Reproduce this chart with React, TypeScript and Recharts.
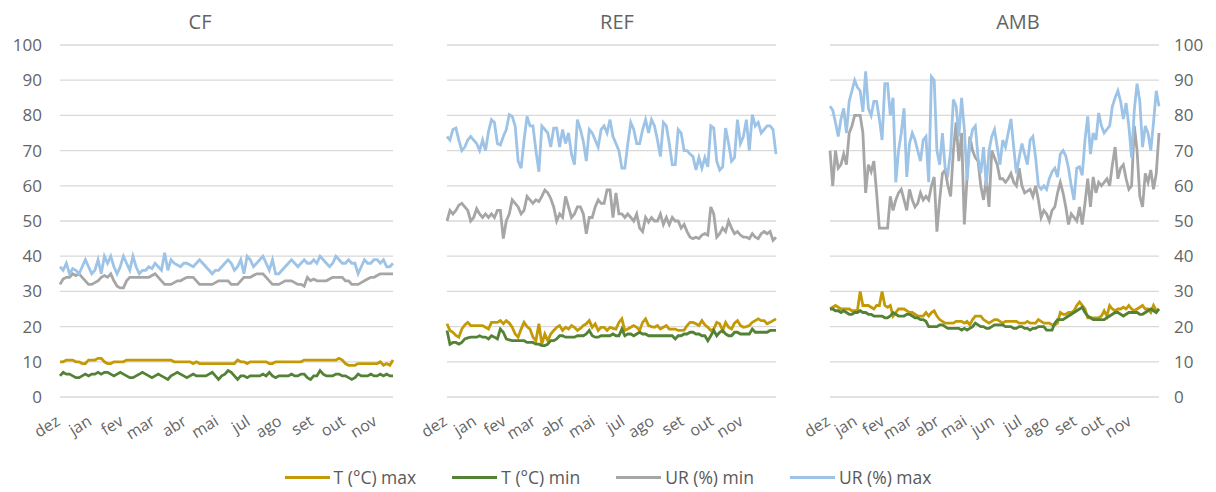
import React from "react";
import { LineChart, Line, XAxis, YAxis, CartesianGrid } from "recharts";

// ---------- labels ----------
const monthsCF = ["dez", "jan", "fev", "mar", "abr", "mai", "jul", "ago", "set", "out", "nov"];
const monthsREF = ["dez", "jan", "fev", "mar", "abr", "mai", "jul", "ago", "set", "out", "nov"];
const monthsAMB = ["dez", "jan", "fev", "mar", "abr", "mai", "jun", "jul", "ago", "set", "out", "nov"];
const tickCF = [0, 10, 20, 30, 40, 50, 60, 70, 80, 90, 100];
const tickREF = [0, 10, 20, 30, 40, 50, 60, 70, 80, 90, 100];
const tickAMB = [0, 10, 20, 30, 40, 50, 60, 70, 80, 90, 100, 110];
const yTicks = [0, 10, 20, 30, 40, 50, 60, 70, 80, 90, 100];
const titles = ["CF", "REF", "AMB"];

// ---------- CF ----------
const cfTmax = [10, 10, 10.5, 10.5, 10.5, 10, 10, 9.5, 9.5, 10.5, 10.5, 10.5, 11, 11, 10, 9.5, 9.5, 10, 10, 10, 10, 10.5, 10.5, 10.5, 10.5, 10.5, 10.5, 10.5, 10.5, 10.5, 10.5, 10.5, 10.5, 10.5, 10.5, 10.5, 10, 10, 10, 10, 10, 10, 9.5, 10, 9.5, 9.5, 9.5, 9.5, 9.5, 9.5, 9.5, 9.5, 9.5, 9.5, 9.5, 9.5, 10.5, 10, 10, 9.5, 10, 10, 10, 10, 10, 10, 9.5, 9.5, 10, 10, 10, 10, 10, 10, 10, 10, 10, 10.5, 10.5, 10.5, 10.5, 10.5, 10.5, 10.5, 10.5, 10.5, 10.5, 10.5, 11, 10.5, 9.5, 9, 9, 9, 9.5, 9.5, 9.5, 9.5, 9.5, 9.5, 9.5, 10, 9, 9.5, 9, 10.5];
const cfTmin = [6, 7, 6.5, 6.5, 6, 5.5, 5.5, 6, 6.5, 6, 6.5, 6.5, 7, 6.5, 7, 7, 6.5, 6, 6.5, 7, 6.5, 6, 5.5, 5.5, 6, 6.5, 7, 6.5, 6, 5.5, 6, 6.5, 6, 5.5, 5, 6, 6.5, 7, 6.5, 6, 5.5, 6, 6.5, 6, 6, 6, 6, 6.5, 7, 6, 5, 6, 6.5, 7.5, 7, 6, 5, 6, 6, 5.5, 6, 6, 6, 6, 6.5, 6, 7, 6, 5.5, 6, 6, 6, 6, 6.5, 6, 6, 6.5, 6.5, 5.5, 5, 6, 6, 7.5, 6.5, 6, 6, 6, 6.5, 6.5, 6, 6, 5.5, 5, 5.5, 6.5, 6, 6, 6, 6.5, 6, 6, 6.5, 6, 6.5, 6, 6];
const cfURmin = [32, 33.5, 34, 34, 35, 34.5, 35, 34, 33, 32, 32, 32.5, 33, 34, 34.5, 34, 35, 33, 31.5, 31, 31, 33, 34, 34, 34, 34, 34, 34, 34, 34.5, 35, 34, 33, 32, 32, 32, 32.5, 33, 33, 33.5, 34, 34, 34, 33, 32, 32, 32, 32, 32, 32.5, 33, 33, 33, 33, 32, 32, 32, 33, 34, 34, 34, 34.5, 35, 35, 35, 34, 33, 32, 32, 32, 32.5, 33, 33, 33, 32.5, 32, 32, 31.5, 34, 33, 33.5, 33, 33, 33, 33, 33.5, 34, 34, 34, 34, 33, 33, 32, 32, 32, 32.5, 33, 33.5, 34, 34, 34.5, 35, 35, 35, 35, 35];
const cfURmax = [37, 36, 38, 35, 36.5, 36, 35, 37, 39, 37, 35, 36, 39, 35, 40, 38, 40, 37, 35, 37, 40, 38, 36, 40, 37, 35, 36, 36, 37, 36.5, 38, 37, 36, 41, 36, 39, 38, 37.5, 37, 38, 38, 37.5, 37, 38, 39, 38, 37, 36, 35, 36, 36, 37, 38, 39, 38, 36, 37, 39, 35, 40, 39, 37, 38, 39, 40, 38, 36, 39, 35, 35, 36, 37, 38, 39, 38, 37, 38, 39, 38, 38, 39, 38, 40, 39, 38, 37, 38, 40, 39, 38, 38, 39, 38, 38, 35, 37, 39, 38, 38, 39, 39, 38, 39, 37, 37, 38];

// ---------- REF ----------
const refTmax = [20.8, 18.9, 18.4, 17.5, 17, 19.3, 20.5, 21.2, 20.3, 20.3, 20.3, 20.3, 20.3, 19.8, 19.3, 21.2, 21.2, 21.2, 21.7, 20.8, 21.7, 21, 19.8, 17.9, 17, 19.3, 21.2, 20, 19.3, 17, 16, 20.8, 15, 17.9, 16, 17.9, 18.9, 19.8, 20.3, 18.9, 19.8, 19.3, 20.3, 19.8, 18.9, 19.5, 20.3, 20.8, 21.7, 19.8, 20.8, 18.9, 19.8, 19.8, 18.9, 19.8, 19.5, 19.3, 21.2, 22.2, 18.9, 19.3, 19.8, 20.3, 19.8, 18.9, 21.2, 22.2, 20.3, 20, 19.8, 20.3, 19.3, 19.8, 20.3, 19.3, 19.3, 19.3, 18.9, 18.9, 19, 20.3, 21.2, 21.2, 20.8, 20.3, 21.7, 20.5, 19.8, 18.9, 19.3, 21.2, 20.8, 18.9, 21.2, 19.8, 19.3, 21, 21.7, 20.3, 19.8, 20, 20.3, 21.2, 21.7, 22.2, 21.7, 21.7, 20.8, 21.2, 21.7, 22.2];
const refTmin = [18.9, 15, 15.5, 15.5, 15, 15.5, 16.5, 16.8, 17, 17, 17, 17.4, 17, 17, 16.5, 17.4, 17, 16.5, 19.3, 18.4, 16.5, 16.2, 16, 16, 16, 16, 16, 15.5, 15.5, 15.5, 15, 15, 14.6, 14.6, 15, 16, 16, 16.5, 17.4, 17.4, 17, 17, 17, 17, 17.4, 17.4, 17.4, 17.9, 18.9, 17.4, 17, 17, 17.4, 17.4, 17.4, 17.4, 17.9, 17.4, 17.4, 19.3, 17.4, 17.9, 17.9, 17.4, 17.9, 18.4, 17.9, 17.9, 17.4, 17.4, 17.4, 17.4, 17.4, 17.4, 17.4, 17.4, 17.4, 16.5, 17.4, 17.4, 17.9, 17.9, 18.4, 18.4, 17.9, 17.9, 17.4, 17.4, 16, 17.4, 18.9, 17.4, 18.4, 18.9, 17.9, 17.4, 17.4, 18.4, 18.4, 17.9, 17.9, 17.9, 17.9, 19.3, 18.4, 18.4, 18.4, 18.4, 18.4, 18.9, 18.9, 18.9];
const refURmin = [50, 53, 52, 53, 54.5, 55, 54, 53, 50, 51, 53.5, 52, 51, 52, 51, 52, 51, 53, 53, 45, 50, 52, 56, 55, 54, 52, 53, 57, 56, 55, 56, 55.5, 57, 58.8, 58, 56.4, 54, 50, 52, 51, 57, 54, 51, 52, 54, 54, 52, 46.4, 51, 51, 54, 56, 55, 55, 58.8, 58.8, 51, 58, 52, 52, 51, 52, 51, 50, 52, 48, 47, 51, 49.7, 51, 50, 50, 52, 49, 51, 49, 51, 50, 50, 48, 49, 47, 45.4, 45, 45.4, 45, 46, 46.4, 46, 54, 52, 45.4, 46.4, 48, 47, 50, 48, 46.4, 47, 46, 45.4, 45.4, 45, 46.4, 45.4, 45, 46.4, 47, 46.4, 47, 44.5, 45.4];
const refURmax = [74, 73, 76, 76.4, 73, 70, 71, 73, 74, 73, 72, 70, 73, 70, 75.4, 78.8, 78, 72, 71.6, 74, 76, 80.2, 79.7, 77, 67, 65, 73, 79.7, 77, 77, 70, 64, 77, 76, 75, 71, 76.4, 76.4, 71, 76, 72, 75, 69, 66, 78.8, 76, 72.6, 67, 76, 75, 73, 71, 76, 77, 75, 78.8, 74, 72, 70, 65, 65, 72, 78, 76, 72, 72, 76, 78.8, 75, 78.8, 77, 73, 68.3, 78, 77, 72, 66, 66, 76, 75, 70, 70, 69, 68.3, 64.5, 68, 65, 68, 65.4, 77, 76.4, 67, 64.5, 65.4, 76.4, 72, 67, 68, 78.8, 72, 74, 78.8, 70, 80.2, 77, 78, 75, 76, 77, 77, 76, 69];

// ---------- AMB ----------
const ambTmax = [25, 25.5, 26, 25.5, 25, 25, 25, 25, 24.5, 24.5, 24.5, 30, 26, 26, 26, 25.5, 25, 26, 26, 30, 26, 25.5, 26, 23, 24, 25, 25, 25, 24.5, 24, 24, 23.5, 23, 23, 23, 24, 23, 24, 24.5, 23, 22, 21.5, 21, 21, 21, 21, 21.5, 21.5, 21.5, 21, 21.5, 20.5, 22, 23, 23, 23, 22, 21.5, 21, 21.5, 22, 22, 21.5, 21, 21.5, 21.5, 21.5, 21.5, 21.5, 21, 21, 21, 21.5, 21, 21, 21, 22, 21.5, 21, 21, 21, 20.5, 20.5, 21, 24, 23.5, 23.5, 24, 24, 24.5, 26, 27, 26, 25, 22.5, 22.5, 22.5, 22.5, 22.5, 23, 24.5, 23, 26, 25, 24.5, 25, 25, 25.5, 25, 26, 25, 24.5, 25, 25.5, 26, 25, 25, 24, 26, 24.5, 25];
const ambTmin = [25, 25, 24.5, 24.5, 24, 24.5, 24, 23.5, 23.5, 24, 24, 24.5, 24, 24, 23.5, 23.5, 23, 23, 23, 23, 22.5, 22.5, 23, 24, 23.5, 23, 23, 23, 23.5, 23.5, 23, 22.5, 22.5, 22, 22, 21.5, 20, 20, 20, 20, 20.5, 20.5, 20, 19.5, 19.5, 19.5, 19.5, 19.5, 19, 19.5, 19, 19.5, 20, 21, 20.5, 20, 20, 19.5, 19.5, 20, 20.5, 20.5, 20.5, 20.5, 20, 20, 20, 19.5, 19.5, 20, 20, 19.5, 19.5, 19, 19.5, 19.5, 20, 20, 20, 19, 19, 19, 21, 22, 22, 22, 22.5, 23, 23.5, 24, 24.5, 25, 25.5, 24, 23, 22.5, 22, 22, 22, 22, 22, 22.5, 23, 23.5, 24, 24, 23.5, 23, 23.5, 24, 24, 24, 24, 23.5, 23.5, 24, 24.5, 25, 24.5, 24, 25];
const ambURmin = [70, 60, 70, 65, 66, 69, 66, 75, 77, 80, 80, 80, 75, 58, 66, 64, 67, 58, 48, 48, 48, 48, 57, 53, 56, 58, 59, 56, 53, 59, 56, 54, 55, 58, 56, 57, 56, 60, 62.5, 47, 56, 63.5, 64.5, 60, 57, 70, 78, 67, 75, 49, 62.5, 74, 70, 68, 67, 60, 56, 62, 54, 70, 68, 66, 62, 62, 61, 62, 63.5, 61, 60, 65, 60, 58, 58.5, 59, 57, 60, 56, 51, 53, 52, 50, 53, 54, 58, 61, 58, 54, 49, 52, 51, 50, 54, 49, 55, 62, 54, 62.5, 58, 61, 60, 61, 62, 60, 66, 71, 62, 65, 66, 62, 59, 60, 77, 70, 57, 54, 63.5, 61, 64.5, 59, 63.5, 75];
const ambURmax = [82.6, 81.5, 78, 74, 79, 82, 75, 84, 87, 90, 88, 87, 81, 92.5, 82, 80, 84, 84, 79, 73, 89, 89, 80, 85, 61, 70, 75, 82, 62.5, 72, 75, 73, 70, 67, 73, 74, 61, 91, 90, 70, 66, 75, 65, 63.5, 70, 84.5, 82.6, 74, 85, 76, 61.6, 72, 76, 77, 68, 63.5, 71, 60, 70, 74, 76, 71, 66, 73, 71, 75, 79, 71, 63.5, 68, 72, 69, 66, 73, 74, 68, 60, 59, 60, 59, 62, 64, 65, 62.5, 69, 70, 68.5, 65, 60, 56, 65, 65.4, 63, 73, 79.7, 69, 75, 73, 80.7, 77, 75, 76, 77, 82.6, 85, 87, 84, 79, 83.5, 77, 68, 81.6, 89, 84, 71, 77, 75, 70, 78, 87, 82.6];

const SERIES = [
  { key: "tmax", name: "T (°C) max", color: "#C39A06" },
  { key: "tmin", name: "T (°C) min", color: "#538135" },
  { key: "urmin", name: "UR (%) min", color: "#A6A6A6" },
  { key: "urmax", name: "UR (%) max", color: "#9DC3E6" },
];

function rows(tmax: number[], tmin: number[], urmin: number[], urmax: number[]) {
  return tmax.map((v, i) => ({ i, tmax: v, tmin: tmin[i], urmin: urmin[i], urmax: urmax[i] }));
}

const cfData = rows(cfTmax, cfTmin, cfURmin, cfURmax);
const refData = rows(refTmax, refTmin, refURmin, refURmax);
const ambData = rows(ambTmax, ambTmin, ambURmin, ambURmax);

const FONT = "'Open Sans', 'Noto Sans', sans-serif";
const LABEL = "#646464";

function makeTick(ticks: number[], labels: string[]) {
  return (props: any) => {
    const { x, y, payload } = props;
    const idx = ticks.indexOf(payload.value);
    const tx = x + 1;
    const ty = y + 27;
    return (
      <text
        x={tx}
        y={ty}
        transform={`rotate(-32 ${tx} ${ty})`}
        textAnchor="end"
        fill={LABEL}
        fontSize={16}
        fontFamily={FONT}
      >
        {idx >= 0 ? labels[idx] : ""}
      </text>
    );
  };
}

type PanelProps = {
  data: any[];
  ticks: number[];
  labels: string[];
  left: number;
  width: number;
  margin: { top: number; right: number; bottom: number; left: number };
  axis: "left" | "right" | "none";
};

function Panel({ data, ticks, labels, left, width, margin, axis }: PanelProps) {
  return (
    <div style={{ position: "absolute", left, top: 0 }}>
      <LineChart width={width} height={440} data={data} margin={margin} style={{ overflow: "visible" }}>
        <CartesianGrid horizontal vertical={false} stroke="#D9D9D9" strokeWidth={1.3} />
        <XAxis
          type="number"
          dataKey="i"
          domain={[0, data.length - 1]}
          ticks={ticks}
          interval={0}
          axisLine={false}
          tickLine={false}
          tickSize={0}
          tickMargin={0}
          height={51}
          tick={makeTick(ticks, labels)}
        />
        <YAxis
          orientation={axis === "right" ? "right" : "left"}
          hide={axis === "none"}
          domain={[0, 100]}
          ticks={yTicks}
          interval={0}
          width={axis === "none" ? 0 : axis === "right" ? 45 : 52}
          axisLine={false}
          tickLine={false}
          tickSize={0}
          tickMargin={axis === "right" ? 15 : 18}
          tick={{ fill: LABEL, fontSize: 17, fontFamily: FONT }}
        />
        {SERIES.map((s) => (
          <Line
            key={s.key}
            type="linear"
            dataKey={s.key}
            name={s.name}
            stroke={s.color}
            strokeWidth={2.8}
            dot={false}
            isAnimationActive={false}
          />
        ))}
      </LineChart>
    </div>
  );
}

const titlePos = [192, 609, 1010];

export default function App() {
  return (
    <div style={{ position: "relative", width: 1200, height: 484, background: "#fff", fontFamily: FONT }}>
      <Panel data={cfData} ticks={tickCF} labels={monthsCF} left={0} width={400} margin={{ top: 37, right: 15, bottom: 0, left: 0 }} axis="left" />
      <Panel data={refData} ticks={tickREF} labels={monthsREF} left={400} width={380} margin={{ top: 37, right: 12, bottom: 0, left: 39 }} axis="none" />
      <Panel data={ambData} ticks={tickAMB} labels={monthsAMB} left={782} width={414} margin={{ top: 37, right: 0, bottom: 0, left: 40 }} axis="right" />
      {titles.map((t, k) => (
        <div
          key={t}
          style={{
            position: "absolute",
            left: titlePos[k] - 60,
            width: 120,
            top: 1,
            textAlign: "center",
            fontSize: 20,
            color: "#646464",
            lineHeight: "26px",
          }}
        >
          {t}
        </div>
      ))}
      <div
        style={{
          position: "absolute",
          left: 0,
          width: 1200,
          top: 457,
          display: "flex",
          justifyContent: "center",
          gap: 36,
          fontSize: 17.5,
          color: "#595959",
          lineHeight: "24px",
        }}
      >
        {SERIES.map((s) => (
          <div key={s.key} style={{ display: "flex", alignItems: "center" }}>
            <div style={{ width: 45, height: 3, background: s.color, marginRight: 4 }} />
            <span>{s.name}</span>
          </div>
        ))}
      </div>
    </div>
  );
}
